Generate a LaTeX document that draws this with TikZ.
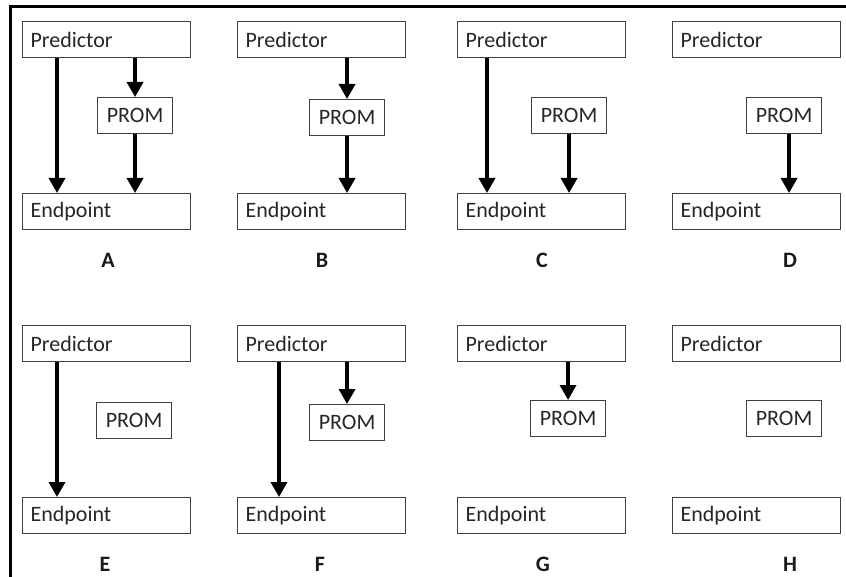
\documentclass[tikz,border=0pt]{standalone}
\usepackage{fontspec}
\setmainfont{Carlito}
\usetikzlibrary{arrows.meta}

\tikzset{
  wide/.style={draw=black!75, line width=1.1pt, anchor=north west,
    minimum width=168pt, minimum height=36pt, text width=152pt,
    inner xsep=8pt, align=left, text=black!85,
    font=\fontsize{22}{24}\selectfont},
  prom/.style={draw=black!75, line width=1.1pt, anchor=north west,
    minimum width=75pt, minimum height=36pt, inner sep=0pt,
    text=black!85, font=\fontsize{22}{24}\selectfont},
  tag/.style={font=\bfseries\fontsize{22}{24}\selectfont, text=black!90},
  link/.style={-{Triangle[length=15pt,width=16pt]}, line width=3.5pt}
}

\begin{document}
\begin{tikzpicture}[x=1pt,y=-1pt]
  \useasboundingbox (0,0) rectangle (846,577);
  % frame
  \draw[line width=3pt] (846,7) -- (10,7) -- (10,577);

  % the eight panels: letter / column / row / prom x / prom y / label x
  \foreach \lab/\x/\y/\mx/\my/\tx in {A/22/21/97/97/108, B/237/21/309/99/322,
      C/457/21/531/97/542, D/672/21/746/97/790, E/22/325/96/402/105,
      F/237/325/309/404/320, G/457/325/530/400/543, H/672/325/746/400/790}{
    \node[wide] (p\lab) at (\x,\y) {Predictor};
    \node[prom] (m\lab) at (\mx,\my) {PROM};
    \node[wide] (e\lab) at (\x,\y+172) {Endpoint};
    \node[tag] (t\lab) at (\tx,\y+239) {\lab};
  }

  % A
  \draw[link] ([xshift=35pt]pA.south west) -- ([xshift=35pt]eA.north west);
  \draw[link] (pA.south -| mA.north) -- (mA.north);
  \draw[link] (mA.south) -- (mA.south |- eA.north);
  % B
  \draw[link] (pB.south -| mB.north) -- (mB.north);
  \draw[link] (mB.south) -- (mB.south |- eB.north);
  % C
  \draw[link] ([xshift=30pt]pC.south west) -- ([xshift=30pt]eC.north west);
  \draw[link] (mC.south) -- (mC.south |- eC.north);
  % D
  \draw[link] ([xshift=5pt]mD.south) -- ([xshift=5pt]mD.south |- eD.north);
  % E
  \draw[link] ([xshift=35pt]pE.south west) -- ([xshift=35pt]eE.north west);
  % F
  \draw[link] ([xshift=42pt]pF.south west) -- ([xshift=42pt]eF.north west);
  \draw[link] (pF.south -| mF.north) -- (mF.north);
  % G
  \draw[link] (pG.south -| mG.north) -- (mG.north);
\end{tikzpicture}
\end{document}
